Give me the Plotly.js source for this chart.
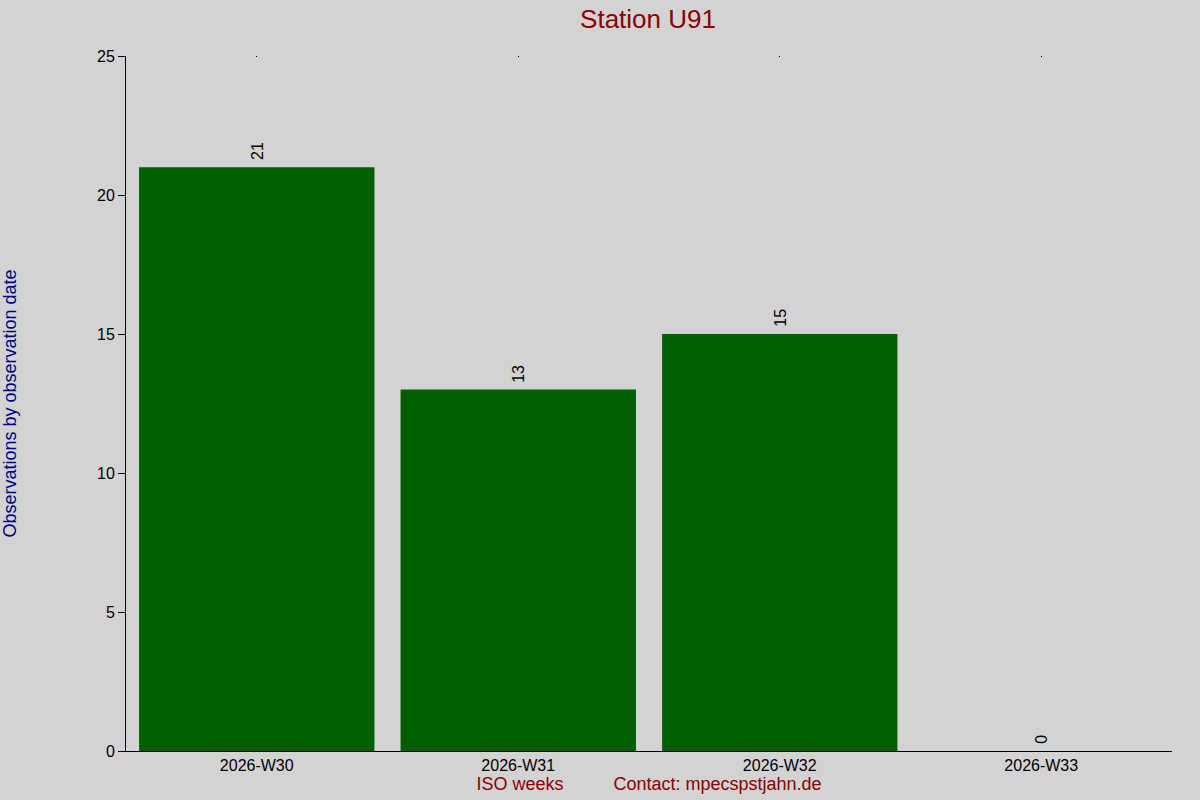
<!DOCTYPE html>
<html><head><meta charset="utf-8">
<script src="https://cdn.plot.ly/plotly-3.0.1.min.js"></script>
<style>html,body{margin:0;padding:0;background:#d3d3d3;}</style>
</head><body>
<div id="chart" style="width:1200px;height:800px;"></div>
<script>
const weeks = ["2026-W30", "2026-W31", "2026-W32", "2026-W33"];
const observations = [21, 13, 15, 0];
const chartTitle = "Station U91";
const yTitle = "Observations by observation date";
const xTitle = "ISO weeks" + "\u00a0".repeat(10) + "Contact: mpecspstjahn.de";

const trace = {
  type: "bar",
  x: weeks,
  y: observations,
  marker: {color: "#006000", line: {width: 0}},
  width: 0.9,
  hoverinfo: "none"
};

const topTicks = {
  type: "scatter", mode: "markers",
  x: weeks, y: observations,
  xaxis: "x2", yaxis: "y",
  marker: {opacity: 0},
  hoverinfo: "none", showlegend: false
};

const labels = weeks.map((w, i) => ({
  x: w, y: observations[i], xref: "x", yref: "y",
  text: String(observations[i]),
  textangle: -90, showarrow: false,
  xanchor: "center", yanchor: "bottom", yshift: 5,
  font: {size: 16, color: "#000000"}
}));

const layout = {
  width: 1200, height: 800,
  paper_bgcolor: "#d3d3d3",
  plot_bgcolor: "#d3d3d3",
  margin: {l: 126, r: 28, t: 56, b: 49, pad: 0},
  showlegend: false,
  font: {family: "Liberation Sans, Arial, sans-serif", size: 16, color: "#000000"},
  title: {text: chartTitle, font: {size: 26, color: "#8b0000"}, x: 0.54, xanchor: "center", y: 0.977, yanchor: "middle"},
  annotations: labels,
  xaxis: {
    type: "category",
    range: [-0.5, 3.5],
    showgrid: false, zeroline: false,
    showline: true, linecolor: "#000000", linewidth: 1,
    ticks: "",
    tickfont: {size: 16, color: "#000000"},
    title: {text: xTitle, font: {size: 18, color: "#8b0000"}, standoff: 2}
  },
  xaxis2: {
    type: "category", overlaying: "x", side: "top", matches: "x",
    range: [-0.5, 3.5],
    showgrid: false, zeroline: false, showline: false,
    showticklabels: false,
    ticks: "inside", ticklen: 1, tickwidth: 1, tickcolor: "#000000"
  },
  yaxis: {
    range: [0, 25], dtick: 5,
    showgrid: false, zeroline: false,
    showline: true, linecolor: "#000000", linewidth: 1,
    ticks: "outside", ticklen: 7, tickcolor: "#000000",
    tickfont: {size: 16, color: "#000000"},
    title: {text: yTitle, font: {size: 18, color: "#00008b"}, standoff: 82}
  }
};

Plotly.newPlot("chart", [trace, topTicks], layout, {displayModeBar: false, staticPlot: true});
</script>
</body></html>
